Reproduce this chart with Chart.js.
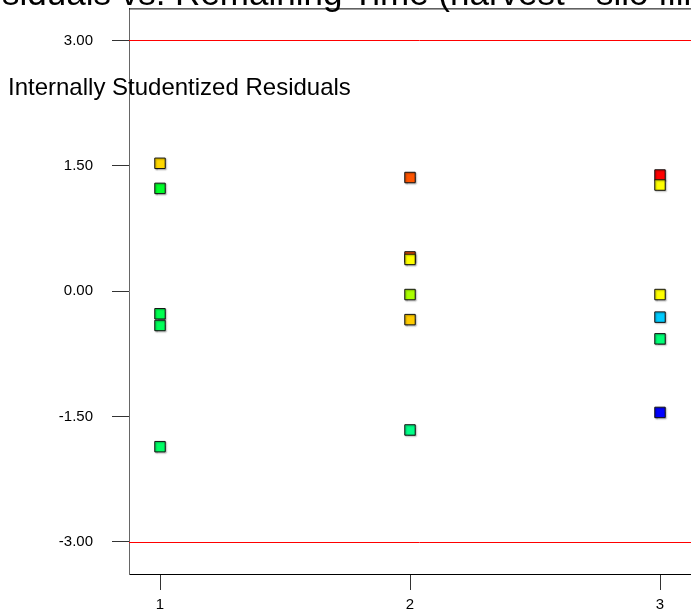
<!DOCTYPE html>
<html>
<head>
<meta charset="utf-8">
<script src="https://cdn.jsdelivr.net/npm/chart.js@4.4.0/dist/chart.umd.min.js"></script>
<style>
  html, body { margin: 0; padding: 0; background: #fff; overflow: hidden; }
  #wrap { position: absolute; left: 0; top: 0; width: 730px; height: 614px; }
</style>
</head>
<body>
<div id="wrap"><canvas id="resChart" width="730" height="614"></canvas></div>
<script>
// run number (remaining time group) of each point
const runs = [1, 1, 1, 1, 1, 2, 2, 2, 2, 2, 2, 3, 3, 3, 3, 3, 3];
// internally studentized residuals
const residuals = [1.53, 1.23, -0.27, -0.41, -1.86,
                   1.36, 0.41, 0.38, -0.04, -0.34, -1.66,
                   1.39, 1.27, -0.04, -0.31, -0.57, -1.45];
const pointColors = ['#FFD700', '#00FF2A', '#00FF50', '#00FF5A', '#00FF66',
                     '#FF5500', '#FF5500', '#FFFF00', '#AAFF00', '#FFCC00', '#00FF88',
                     '#FF0000', '#FFFF00', '#FFFF00', '#00CCFF', '#00FF77', '#0000FF'];
const xTicks = [1, 2, 3];
const yTicks = [-3, -1.5, 0, 1.5, 3];
const limits = [3, -3];

const mainTitle = 'Residuals vs. Remaining Time (harvest - silo fill)';
const yTitle = 'Internally Studentized Residuals';

const points = runs.map((r, i) => ({ x: r, y: residuals[i] }));

// red limit lines, top border and the text
const extras = {
  id: 'extras',
  beforeDatasetsDraw(chart) {
    const { ctx, chartArea } = chart;
    const y = chart.scales.y;
    ctx.save();
    ctx.lineWidth = 1;
    limits.forEach(v => {
      const py = Math.round(y.getPixelForValue(v)) + 0.5;
      ctx.strokeStyle = '#FF0000';
      ctx.beginPath();
      ctx.moveTo(chartArea.left, py);
      ctx.lineTo(chartArea.right, py);
      ctx.stroke();
    });
    ctx.strokeStyle = '#000';
    ctx.beginPath();
    ctx.moveTo(chartArea.left, chartArea.top + 0.5);
    ctx.lineTo(chartArea.right, chartArea.top + 0.5);
    ctx.stroke();
    ctx.restore();
  },
  beforeDatasetDraw(chart) {
    const ctx = chart.ctx;
    ctx.save();
    ctx.shadowColor = 'rgba(0,0,0,0.35)';
    ctx.shadowOffsetX = 1;
    ctx.shadowOffsetY = 1;
    ctx.shadowBlur = 1.5;
  },
  afterDatasetDraw(chart) {
    chart.ctx.restore();
  },
  afterDraw(chart) {
    const { ctx } = chart;
    ctx.save();
    ctx.fillStyle = '#000';
    ctx.textBaseline = 'alphabetic';
    ctx.font = '35px "Liberation Sans", Arial, sans-serif';
    const off = ctx.measureText('Re').width;
    ctx.fillText(mainTitle, 2 - off, 5);
    ctx.font = '24px "Liberation Sans", Arial, sans-serif';
    ctx.fillText(yTitle, 8, 95);
    ctx.restore();
  }
};

new Chart(document.getElementById('resChart'), {
  type: 'scatter',
  data: {
    datasets: [{
      data: points,
      pointStyle: 'rect',
      pointRadius: 7.4,
      pointHoverRadius: 7.4,
      pointBackgroundColor: pointColors,
      pointBorderColor: '#111',
      pointBorderWidth: 1
    }]
  },
  options: {
    responsive: false,
    animation: false,
    layout: { padding: { top: 8, right: 20, left: 0, bottom: 0 } },
    plugins: {
      legend: { display: false },
      tooltip: { enabled: false }
    },
    scales: {
      x: {
        type: 'linear',
        min: 0.876,
        max: 3.2,
        afterBuildTicks: s => { s.ticks = xTicks.map(v => ({ value: v })); },
        afterFit: s => { s.height = 40; s.paddingLeft = 0; s.paddingRight = 0; },
        grid: { drawOnChartArea: false, drawTicks: true, tickLength: 16, color: '#333' },
        border: { display: true, color: '#000', width: 1 },
        ticks: {
          color: '#000',
          padding: 6,
          font: { family: '"Liberation Sans", Arial, sans-serif', size: 15 },
          callback: v => String(v)
        }
      },
      y: {
        type: 'linear',
        min: -3.383,
        max: 3.383,
        afterBuildTicks: s => { s.ticks = yTicks.map(v => ({ value: v })); },
        afterFit: s => { s.width = 129; s.paddingTop = 0; s.paddingBottom = 0; },
        grid: { drawOnChartArea: false, drawTicks: true, tickLength: 17, color: '#333' },
        border: { display: true, color: '#666', width: 1 },
        ticks: {
          color: '#000',
          padding: 19,
          font: { family: '"Liberation Sans", Arial, sans-serif', size: 15 },
          callback: v => v.toFixed(2)
        }
      }
    }
  },
  plugins: [extras]
});
</script>
</body>
</html>
